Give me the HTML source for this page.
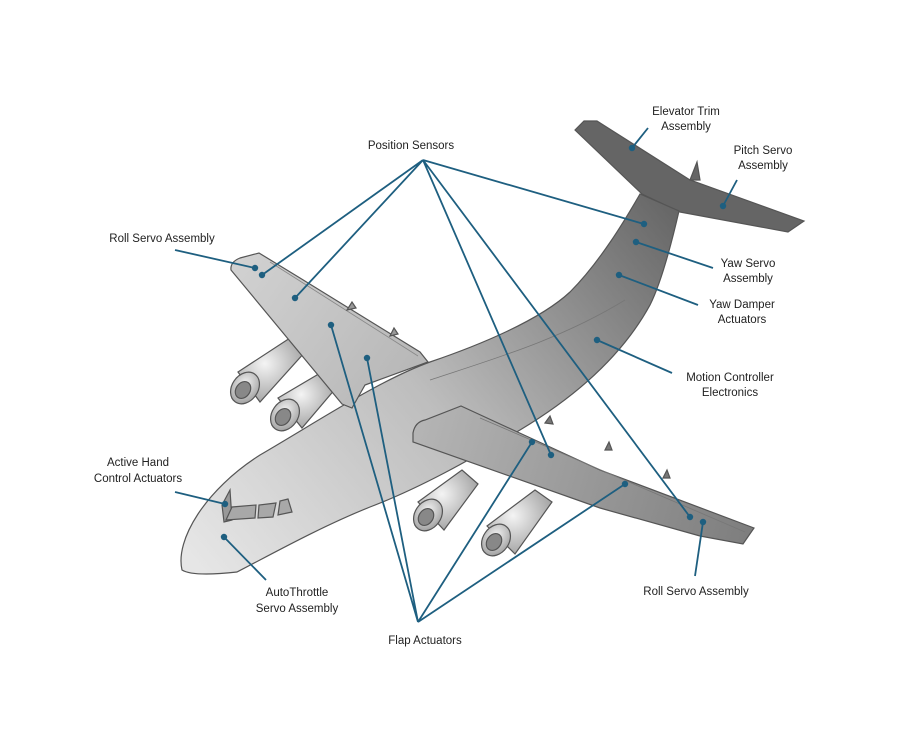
<!DOCTYPE html>
<html><head><meta charset="utf-8"><style>
html,body{margin:0;padding:0;background:#fff;}
svg{display:block;}
text{font-family:"Liberation Sans",Arial,sans-serif;font-size:11.5px;fill:#222;}
</style></head><body>
<svg width="900" height="750" viewBox="0 0 900 750" xmlns="http://www.w3.org/2000/svg">
<defs>
<linearGradient id="g" gradientUnits="userSpaceOnUse" x1="200" y1="570" x2="690" y2="170">
<stop offset="0" stop-color="#e6e6e6"/><stop offset="0.45" stop-color="#bdbdbd"/><stop offset="1" stop-color="#5c5c5c"/></linearGradient>
<linearGradient id="w" gradientUnits="userSpaceOnUse" x1="230" y1="260" x2="430" y2="400">
<stop offset="0" stop-color="#d2d2d2"/><stop offset="1" stop-color="#b4b4b4"/></linearGradient>
<linearGradient id="w2" gradientUnits="userSpaceOnUse" x1="420" y1="430" x2="750" y2="530">
<stop offset="0" stop-color="#b4b4b4"/><stop offset="1" stop-color="#7e7e7e"/></linearGradient>
<radialGradient id="eng" cx="0.4" cy="0.4" r="0.7"><stop offset="0" stop-color="#f4f4f4"/><stop offset="1" stop-color="#9a9a9a"/></radialGradient>
</defs>
<g stroke="#555" stroke-width="1.2">
<!-- tail horizontal stabilizer -->
<path d="M575,130 L584,121 L597,121 L690,180 L804,221 L788,232 L680,212 L642,194 Z" fill="#656565"/>
<path d="M690,180 L697,162 L700,180 Z" fill="#666"/>
<!-- left engines -->
<g fill="url(#eng)">
<path d="M238,372 L290,338 L305,352 L260,402 Z"/>
<ellipse cx="245" cy="388" rx="13" ry="17" transform="rotate(35 245 388)"/>
<ellipse cx="243" cy="390" rx="7" ry="9" fill="#888" transform="rotate(35 243 390)"/>
<path d="M278,398 L322,372 L336,388 L302,428 Z"/>
<ellipse cx="285" cy="415" rx="13" ry="17" transform="rotate(35 285 415)"/>
<ellipse cx="283" cy="417" rx="7" ry="9" fill="#888" transform="rotate(35 283 417)"/>
</g>
<!-- right engines -->
<g fill="url(#eng)">
<path d="M418,502 L462,470 L478,484 L444,530 Z"/>
<ellipse cx="428" cy="515" rx="13" ry="17" transform="rotate(35 428 515)"/>
<ellipse cx="426" cy="517" rx="7" ry="9" fill="#888" transform="rotate(35 426 517)"/>
<path d="M487,526 L535,490 L552,502 L515,554 Z"/>
<ellipse cx="496" cy="540" rx="13" ry="17" transform="rotate(35 496 540)"/>
<ellipse cx="494" cy="542" rx="7" ry="9" fill="#888" transform="rotate(35 494 542)"/>
</g>
<!-- fuselage -->
<path d="M182,570 C175,540 205,490 260,455 C320,420 380,380 430,362 C480,345 540,320 570,292 C600,262 625,220 640,194 L679,211 C670,250 660,285 650,305 C620,360 570,400 520,430 C470,460 420,488 370,507 C320,527 270,555 237,572 C210,575 190,575 182,570 Z" fill="url(#g)"/>
<path d="M430,380 C490,360 560,340 625,300" fill="none" stroke="#777" stroke-width="0.8"/>
<!-- cockpit windows -->
<path d="M222,505 L230,490 L232,520 L224,522 Z" fill="#999"/>
<path d="M226,520 L232,507 L256,505 L255,518 Z" fill="#a8a8a8"/>
<path d="M258,518 L259,505 L276,503 L273,517 Z" fill="#a8a8a8"/>
<path d="M278,515 L280,501 L288,499 L292,512 Z" fill="#a8a8a8"/>
<!-- left wing -->
<path d="M231,270 Q230,262 240,258 L259,253 L300,278 L420,352 L428,362 L365,385 L352,408 L342,404 Z" fill="url(#w)"/>
<path d="M270,262 L418,356" fill="none" stroke="#888" stroke-width="0.8"/>
<path d="M347,310 L352,302 L356,308 Z M390,336 L394,328 L398,334 Z" fill="#999"/>
<!-- right wing -->
<path d="M413,433 Q415,422 425,420 L461,406 L600,470 L754,528 L743,544 L700,536 L600,508 L413,442 Z" fill="url(#w2)"/>
<path d="M480,418 L745,532" fill="none" stroke="#777" stroke-width="0.8"/>
<path d="M545,423 L550,416 L553,424 Z M605,450 L609,442 L612,450 Z M663,478 L667,470 L670,478 Z" fill="#777"/>
</g>
<!-- connector lines -->
<g stroke="#1e5f80" stroke-width="1.8" fill="none">
<path d="M423,160 L262,275 M423,160 L295,298 M423,160 L644,224 M423,160 L551,455 M423,160 L690,517"/>
<path d="M175,250 L255,268"/>
<path d="M648,128 L632,148"/>
<path d="M737,180 L723,206"/>
<path d="M713,268 L636,242"/>
<path d="M698,305 L619,275"/>
<path d="M672,373 L597,340"/>
<path d="M175,492 L225,504"/>
<path d="M266,580 L224,537"/>
<path d="M418,622 L331,325 M418,622 L367,358 M418,622 L532,442 M418,622 L625,484"/>
<path d="M695,576 L703,522"/>
</g>
<g fill="#1e5f80">
<circle cx="255" cy="268" r="3.2"/><circle cx="262" cy="275" r="3.2"/><circle cx="295" cy="298" r="3.2"/>
<circle cx="644" cy="224" r="3.2"/><circle cx="636" cy="242" r="3.2"/><circle cx="619" cy="275" r="3.2"/>
<circle cx="597" cy="340" r="3.2"/><circle cx="632" cy="148" r="3.2"/><circle cx="723" cy="206" r="3.2"/>
<circle cx="532" cy="442" r="3.2"/><circle cx="551" cy="455" r="3.2"/><circle cx="625" cy="484" r="3.2"/>
<circle cx="690" cy="517" r="3.2"/><circle cx="703" cy="522" r="3.2"/>
<circle cx="331" cy="325" r="3.2"/><circle cx="367" cy="358" r="3.2"/>
<circle cx="225" cy="504" r="3.2"/><circle cx="224" cy="537" r="3.2"/>
</g>
<!-- labels -->
<g text-anchor="middle">
<text x="411" y="149">Position Sensors</text>
<text x="686" y="115">Elevator Trim</text><text x="686" y="130">Assembly</text>
<text x="763" y="154">Pitch Servo</text><text x="763" y="169">Assembly</text>
<text x="748" y="267">Yaw Servo</text><text x="748" y="282">Assembly</text>
<text x="742" y="308">Yaw Damper</text><text x="742" y="323">Actuators</text>
<text x="730" y="381">Motion Controller</text><text x="730" y="396">Electronics</text>
<text x="138" y="466">Active Hand</text><text x="138" y="482">Control Actuators</text>
<text x="297" y="596">AutoThrottle</text><text x="297" y="612">Servo Assembly</text>
<text x="425" y="644">Flap Actuators</text>
<text x="696" y="595">Roll Servo Assembly</text>
<text x="162" y="242">Roll Servo Assembly</text>
</g>
</svg>
</body></html>
